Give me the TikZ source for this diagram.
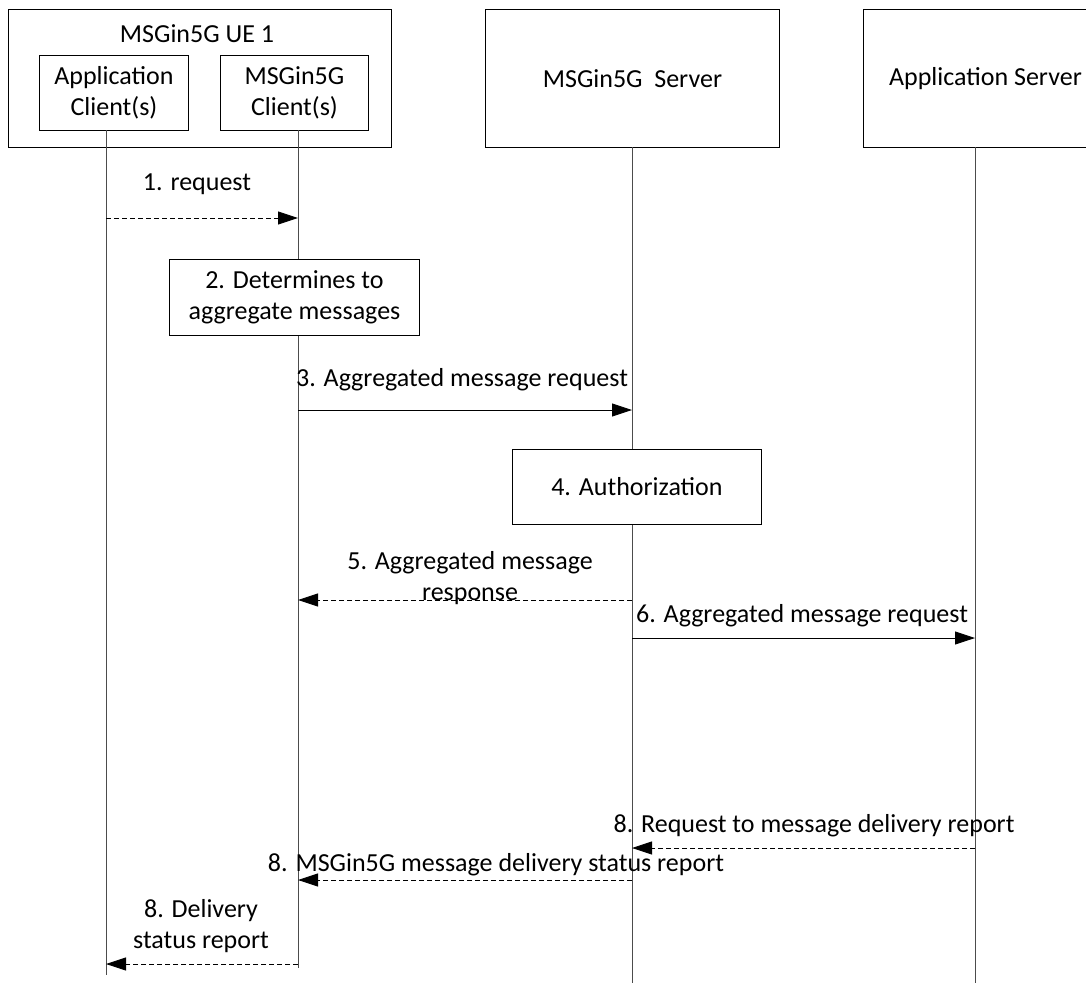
\documentclass[tikz,border=0pt]{standalone}
\usepackage{fontspec}
\setmainfont{Carlito}
\usetikzlibrary{arrows.meta}
\begin{document}
\begin{tikzpicture}[x=1pt,y=-1pt,
  every node/.style={font=\fontsize{26}{31}\selectfont, inner sep=0pt},
  box/.style={draw, line width=0.9pt, fill=white, align=center},
  life/.style={line width=0.9pt, gray!60!black},
  msg/.style={line width=0.9pt, -{Triangle[length=20pt,width=13pt]}},
  rmsg/.style={msg, dashed, dash pattern=on 5pt off 3pt},
  lbl/.style={align=center, fill=none}
]
\useasboundingbox (0,0) rectangle (1086,983);
% participant boxes
\node[box, minimum width=383pt, minimum height=138pt, anchor=north west] (ue) at (8,9) {};
\node (uet) at (197,34) {MSGin5G UE 1};
\node[box, minimum width=149pt, minimum height=75pt, anchor=north west] (appc) at (39,55) {Application\\Client(s)};
\node[box, minimum width=148pt, minimum height=75pt, anchor=north west] (msgc) at (220,55) {MSGin5G\\Client(s)};
\node[box, minimum width=294pt, minimum height=138pt, anchor=north west] (srv) at (485,9) {MSGin5G\ \ Server};
\node[box, minimum width=244pt, minimum height=138pt, anchor=north west] (as) at (863,9) {Application Server};
% lifeline coordinates
\coordinate (appTop) at (106,130);
\coordinate (appBot) at (106,975);
\coordinate (msgTop) at (298,130);
\coordinate (msgBot) at (298,968);
\coordinate (srvTop) at (632,147);
\coordinate (srvBot) at (632,983);
\coordinate (asTop) at (975,147);
\coordinate (asBot) at (975,983);
\draw[life] (appTop) -- (appBot);
\draw[life] (msgTop) -- (msgBot);
\draw[life] (srvTop) -- (srvBot);
\draw[life] (asTop) -- (asBot);
% action boxes
\node[box, minimum width=250pt, minimum height=76pt, anchor=north west] (det) at (169,259) {2. Determines to\\aggregate messages};
\node[box, minimum width=249pt, minimum height=75pt, anchor=north west] (auth) at (512,449) {4. Authorization};
% message points
\coordinate (m1s) at (106,218); \coordinate (m1e) at (298,218);
\coordinate (m3s) at (298,410); \coordinate (m3e) at (632,410);
\coordinate (m5s) at (632,600); \coordinate (m5e) at (298,600);
\coordinate (m6s) at (632,638); \coordinate (m6e) at (975,638);
\coordinate (m8as) at (975,848); \coordinate (m8ae) at (632,848);
\coordinate (m8bs) at (632,880); \coordinate (m8be) at (298,880);
\coordinate (m8cs) at (298,964); \coordinate (m8ce) at (106,964);
% labels
\node[lbl] (l1) at (197,184) {1. request};
\node[lbl] (l3) at (462,380) {3. Aggregated message request};
\node[lbl] (l5) at (470,578) {5. Aggregated message\\response};
\node[lbl] (l6) at (802,616) {6. Aggregated message request};
\node[lbl] (l8a) at (814,826) {8. Request to message delivery report};
\node[lbl] (l8b) at (496,865) {8. MSGin5G message delivery status report};
\node[lbl] (l8c) at (201,926) {8. Delivery\\status report};
% messages
\draw[rmsg] (m1s) -- (m1e);
\draw[msg] (m3s) -- (m3e);
\draw[rmsg] (m5s) -- (m5e);
\draw[msg] (m6s) -- (m6e);
\draw[rmsg] (m8as) -- (m8ae);
\draw[rmsg] (m8bs) -- (m8be);
\draw[rmsg] (m8cs) -- (m8ce);
\end{tikzpicture}
\end{document}
